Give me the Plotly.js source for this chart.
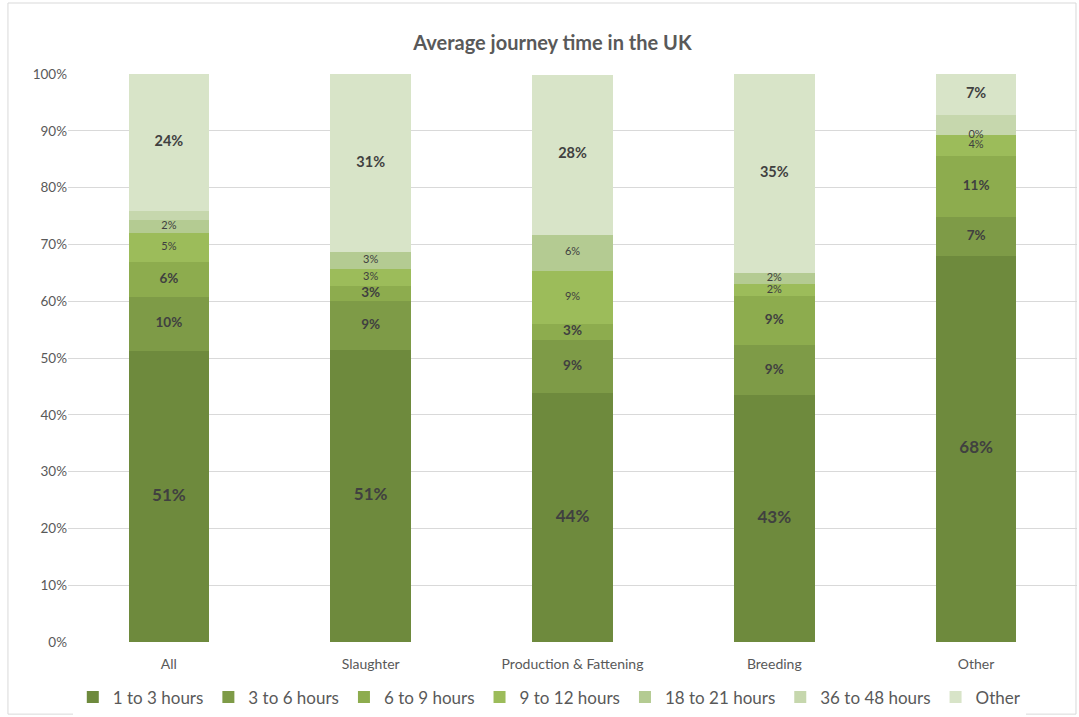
<!DOCTYPE html>
<html>
<head>
<meta charset="utf-8">
<script src="https://cdn.plot.ly/plotly-3.0.1.min.js"></script>
<style>html,body{margin:0;padding:0;background:#fff;}#chart{width:1079px;height:717px;}</style>
</head>
<body>
<div id="chart"></div>
<script>
const categories = ["All", "Slaughter", "Production & Fattening", "Breeding", "Other"];
const seriesNames = ["1 to 3 hours", "3 to 6 hours", "6 to 9 hours", "9 to 12 hours", "18 to 21 hours", "36 to 48 hours", "Other"];
const h1to3   = [51.2, 51.4, 43.8, 43.4, 68.0];
const h3to6   = [9.6, 8.6, 9.4, 8.9, 6.9];
const h6to9   = [6.1, 2.6, 2.8, 8.6, 10.7];
const h9to12  = [5.1, 3.1, 9.4, 2.1, 3.7];
const h18to21 = [2.3, 2.9, 6.3, 2.0, 0.0];
const h36to48 = [1.5, 0.0, 0.0, 0.0, 3.5];
const hOther  = [24.2, 31.4, 28.2, 35.0, 7.2];
const yTickVals = [0,10,20,30,40,50,60,70,80,90,100];
const yTickText = ["0%","10%","20%","30%","40%","50%","60%","70%","80%","90%","100%"];

const series = [h1to3, h3to6, h6to9, h9to12, h18to21, h36to48, hOther];
const colors = ["#6e8a3d", "#7e9b47", "#8dac4e", "#9cbc5a", "#b4cb92", "#c6d7ad", "#d8e4c8"];
const showLabels = [true, true, true, true, true, false, true];
const labelFonts = [
  {size: 17, weight: 700},
  {size: 13.5, weight: 700},
  {size: 13.5, weight: 700},
  {size: 11, weight: 400},
  {size: 11, weight: 400},
  {size: 11, weight: 400},
  {size: 14.5, weight: 700}
];
const FONT = "Lato, 'Open Sans', sans-serif";

const traces = [];
series.forEach((vals, i) => {
  traces.push({
    type: "bar", name: seriesNames[i], x: categories, y: vals,
    marker: {color: colors[i], line: {width: 0}},
    hoverinfo: "name+y"
  });
});
// labels at segment centers, computed from data
const cum = categories.map(() => 0);
series.forEach((vals, i) => {
  const xs = [], ys = [], ts = [];
  vals.forEach((v, j) => {
    const mid = cum[j] + v / 2;
    cum[j] += v;
    if (showLabels[i]) { xs.push(categories[j]); ys.push(mid); ts.push(Math.round(v) + "%"); }
  });
  if (xs.length) traces.push({
    type: "scatter", mode: "text", x: xs, y: ys, text: ts, showlegend: false, hoverinfo: "skip",
    textfont: {family: FONT, size: labelFonts[i].size, weight: labelFonts[i].weight, color: "#404040"},
    cliponaxis: false
  });
});

const layout = {
  width: 1079, height: 717,
  margin: {l: 68, r: 2, t: 74, b: 75, autoexpand: false},
  paper_bgcolor: "#ffffff", plot_bgcolor: "#ffffff",
  font: {family: FONT, color: "#595959"},
  title: {text: "Average journey time in the UK", x: 0.512, xanchor: "center", y: 0.94, yanchor: "middle",
          font: {family: FONT, size: 20, weight: 700, color: "#595959"}},
  barmode: "stack", bargap: 0.6,
  xaxis: {type: "category", tickfont: {size: 14, color: "#595959"}, showgrid: false, showline: false, ticks: "", zeroline: false,
          ticklabelstandoff: 12, automargin: false},
  yaxis: {range: [0, 100], tickvals: yTickVals, ticktext: yTickText, tickfont: {size: 13.5, color: "#595959"},
          gridcolor: "#d9d9d9", gridwidth: 1, zeroline: false, showline: false, ticks: "", ticklen: 0, automargin: false},
  showlegend: true,
  legend: {orientation: "h", x: 0.477, xanchor: "center", y: -0.066, yanchor: "top", traceorder: "normal",
           font: {size: 17, color: "#595959"}, itemwidth: 30},
  shapes: [{type: "rect", xref: "paper", yref: "paper", x0: -0.0595, x1: 0.999, y0: -0.127, y1: 1.125,
            line: {color: "#d9d9d9", width: 1}, fillcolor: "rgba(0,0,0,0)", layer: "below"}]
};
Plotly.newPlot("chart", traces, layout, {displayModeBar: false, staticPlot: true});
</script>
</body>
</html>
